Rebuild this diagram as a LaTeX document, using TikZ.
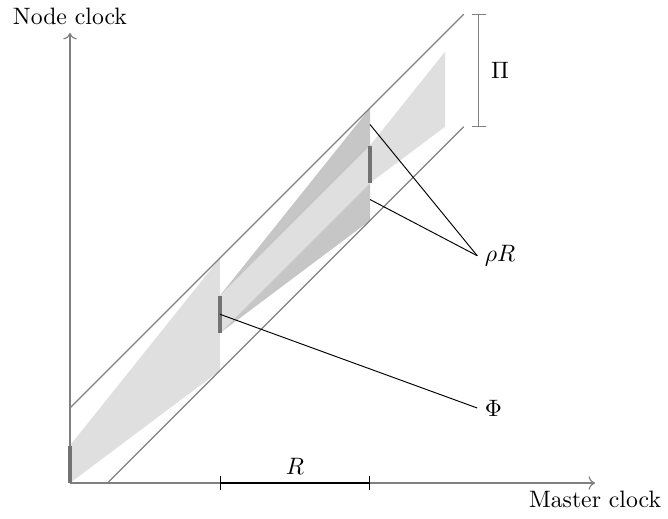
\documentclass[tikz,border=0pt]{standalone}
\usepackage{tikz}
\usetikzlibrary{positioning,arrows.meta}

\begin{document}
\begin{tikzpicture}[
  x=1.111cm, y=1.111cm,
  axis/.style={draw=gray, line width=0.5pt, ->},
  guide/.style={draw=gray, line width=0.5pt},
  lightband/.style={fill=gray!25},
  darkband/.style={fill=gray!45},
  marker/.style={draw=gray!90!black, line width=1.3pt},
  callout/.style={draw=black, thin},
  span/.style={{Bar[width=6pt]}-{Bar[width=6pt]}, line width=0.5pt},
  lbl/.style={inner sep=3pt}
]
\useasboundingbox (-0.933,-0.467) rectangle (7.973,6.44);

%% ── shaded uncertainty bands ────────────────────────────────────────────
\fill[lightband] (0,0) -- (2,1.5) -- (2,3) -- (0,0.5) -- cycle;
\fill[darkband]  (2,2) -- (4,3.5) -- (4,5) -- (2,2.5) -- cycle;
\fill[lightband] (2,2) -- (4,4) -- (4,4.5) -- (2,2.5) -- cycle;
\fill[lightband] (4,4) -- (5,4.75) -- (5,5.75) -- (4,4.5) -- cycle;

%% ── axes ────────────────────────────────────────────────────────────────
\coordinate (o)    at (0,0);
\coordinate (xend) at (7,0);
\coordinate (yend) at (0,6);
\draw[axis] (o) -- (xend);
\draw[axis] (o) -- (yend);
\node[below] (xlbl) at (xend) {Master clock};
\node[above] (ylbl) at (yend) {Node clock};

% bounds of the node clock
\coordinate (ub0) at (0,1);
\coordinate (ub1) at (5.25,6.25);
\coordinate (lb0) at (0.5,0);
\coordinate (lb1) at (5.25,4.75);
\draw[guide] (ub0) -- (ub1);
\draw[guide] (lb0) -- (lb1);

%% ── resync markers ──────────────────────────────────────────────────────
\draw[marker] (0,0) -- (0,0.5);
\draw[marker] (2,2) -- (2,2.5);
\draw[marker] (4,4) -- (4,4.5);

%% ── spans ───────────────────────────────────────────────────────────────
\coordinate (pi0) at (5.45,4.75);
\coordinate (pi1) at (5.45,6.25);
\draw[span, gray] (pi0) -- (pi1);
\node[lbl, right=2pt] (pi) at (5.45,5.5) {$\Pi$};

\coordinate (r0) at (2,0);
\coordinate (r1) at (4,0);
\draw[span] (r0) -- (r1);
\node[above] (r) at (3,0) {$R$};

%% ── callouts ────────────────────────────────────────────────────────────
\node[lbl, anchor=west] (phi) at (5.43,1.0)  {$\Phi$};
\node[lbl, anchor=west] (rho) at (5.43,3.03) {$\rho R$};
\coordinate (phiA) at (2,2.25);
\coordinate (rhoA) at (4,4.78);
\coordinate (rhoB) at (4,3.78);
\draw[callout] (phiA) -- (phi.west);
\draw[callout] (rhoA) -- (rho.west);
\draw[callout] (rhoB) -- (rho.west);

\end{tikzpicture}
\end{document}
